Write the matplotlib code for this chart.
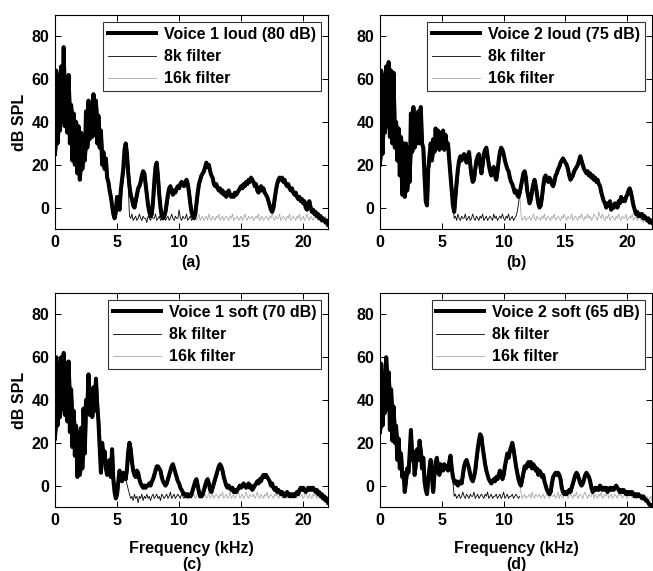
import numpy as np
import matplotlib
matplotlib.use("Agg")
import matplotlib.pyplot as plt

plt.rcParams['font.family'] = ['Liberation Sans', 'DejaVu Sans']
plt.rcParams['font.weight'] = 'bold'
plt.rcParams['path.simplify'] = False

# frequency grid (kHz) of the spectra, 0.1 kHz step
freq = np.linspace(0, 22, 221)
floor_freq = np.linspace(6, 22, 161)

xticks = [0, 5, 10, 15, 20]
yticks = [0, 20, 40, 60, 80]

labels_voice = ["Voice 1 loud (80 dB)", "Voice 2 loud (75 dB)",
                "Voice 1 soft (70 dB)", "Voice 2 soft (65 dB)"]
panel_tags = ["(a)", "(b)", "(c)", "(d)"]

voice_a = np.array([
    25, 64, 30, 62, 36, 66, 40, 75, 38, 58,
    35, 62, 30, 48, 22, 44, 20, 40, 16, 38,
    13, 35, 18, 34, 22, 45, 28, 50, 32, 48,
    33, 53, 34, 50, 30, 43, 28, 36, 20, 26,
    18, 23, 14, 12, 8, 5, 1, -3, -5, -2,
    5, 2, -1, 8, 13, 18, 27, 30, 25, 16,
    10, 6, 4, 1, 0, 3, 6, 9, 10, 12,
    15, 17, 16, 11, 6, 1, -2, -4, -3, 3,
    12, 19, 21, 14, 6, 0, -4, -5, -4, -2,
    2, 6, 9, 10, 8, 6, 8, 7, 9, 10,
    9, 11, 12, 11, 10, 12, 13, 11, 7, 2,
    -2, -4, -5, -3, 2, 7, 11, 13, 15, 16,
    17, 19, 21, 19, 20, 17, 15, 14, 11, 10,
    11, 9, 8, 9, 7, 8, 6, 7, 5, 7,
    8, 6, 5, 6, 5, 7, 6, 7, 8, 9,
    10, 9, 11, 10, 12, 11, 13, 12, 14, 13,
    12, 10, 11, 8, 7, 9, 10, 8, 9, 7,
    6, 5, 3, 1, -1, -2, 0, 4, 8, 11,
    13, 14, 13, 14, 12, 13, 11, 10, 11, 9,
    8, 9, 7, 6, 7, 5, 4, 5, 3, 4,
    2, 3, 0, -1, 2, 3, 0, -2, -1, -3,
    -2, -4, -3, -5, -4, -6, -5, -6, -7, -6,
    -8])

voice_b = np.array([
    20, 64, 25, 62, 35, 66, 38, 68, 33, 64,
    30, 63, 28, 40, 22, 37, 15, 33, 6, 30,
    5, 30, 8, 28, 12, 44, 26, 47, 28, 42,
    30, 45, 30, 47, 30, 28, 15, 3, 1, 18,
    24, 30, 22, 32, 26, 37, 28, 36, 27, 35,
    28, 36, 27, 34, 28, 30, 22, 15, 8, 1,
    -2, 5, 12, 18, 22, 24, 22, 24, 25, 23,
    21, 24, 26, 20, 15, 12, 13, 18, 22, 24,
    25, 20, 16, 20, 25, 27, 28, 24, 20, 17,
    15, 18, 19, 15, 13, 17, 22, 26, 28, 27,
    25, 22, 20, 18, 17, 14, 12, 11, 9, 7,
    8, 6, 5, 7, 10, 13, 16, 17, 14, 8,
    5, 2, 4, 8, 11, 13, 10, 6, 2, 0,
    1, 5, 10, 14, 15, 13, 12, 14, 13, 11,
    10, 12, 15, 16, 18, 19, 21, 22, 23, 22,
    21, 20, 18, 15, 13, 14, 15, 17, 18, 19,
    20, 22, 24, 22, 20, 18, 17, 16, 17, 15,
    16, 14, 15, 13, 14, 12, 13, 11, 10, 7,
    5, 3, 2, 0, 2, 1, 3, -1, 1, 0,
    2, 1, 0, 3, 2, 5, 3, 4, 3, 5,
    6, 8, 9, 7, 4, 1, -1, -3, -2, -4,
    -3, -4, -3, -5, -4, -5, -6, -5, -7, -6,
    -7])

voice_c = np.array([
    22, 60, 28, 57, 32, 60, 36, 62, 33, 57,
    30, 58, 25, 45, 18, 35, 14, 28, 4, 25,
    5, 27, 8, 36, 15, 40, 35, 52, 33, 42,
    32, 46, 35, 50, 38, 30, 18, 6, 20, 12,
    16, 8, 5, 10, 12, 4, 17, 3, -3, -6,
    -4, 2, 7, 4, 2, 6, 5, 3, 8, 16,
    20, 17, 11, 7, 5, 4, 7, 6, 3, 1,
    0, -1, 0, -1, 0, 0, 1, 0, 2, 3,
    5, 7, 9, 9, 8, 7, 4, 2, 1, 0,
    1, 3, 5, 7, 9, 10, 8, 6, 4, 2,
    1, -1, -2, -3, -4, -4, -5, -4, -5, -5,
    -4, -2, 0, 2, 3, 0, -3, -5, -5, -4,
    -2, 0, 2, 3, 1, -2, -3, -1, 1, 3,
    5, 7, 9, 10, 9, 7, 4, 2, 0, -1,
    0, -1, -2, -1, -3, -2, -3, -2, -1, 0,
    -1, 0, 1, 0, -1, 0, 1, -1, 0, -2,
    -1, 0, 1, 2, 1, 3, 2, 4, 5, 4,
    5, 4, 3, 2, 0, 1, -1, -2, -1, -3,
    -2, -3, -4, -3, -4, -5, -4, -3, -4, -5,
    -4, -5, -4, -5, -4, -3, -4, -2, -1, -2,
    -1, -2, -3, -2, -1, -2, -1, -2, -1, -2,
    -3, -2, -4, -3, -5, -4, -6, -5, -7, -6,
    -8])

voice_d = np.array([
    25, 57, 28, 52, 34, 60, 36, 53, 26, 45,
    21, 37, 20, 28, 12, 22, 8, 15, 4, 6,
    -3, 2, 8, 6, 15, 26, 12, 16, 5, 10,
    17, 12, 21, 16, 8, 13, 2, -2, -4, 3,
    8, 12, 4, -3, 5, 11, 13, 7, 5, 10,
    9, 7, 10, 8, 9, 7, 11, 14, 8, 4,
    2, 1, 2, 0, 1, 2, 1, 5, 9, 11,
    12, 10, 8, 5, 3, 2, 4, 7, 12, 17,
    21, 24, 23, 18, 14, 10, 7, 5, 3, 2,
    1, 2, 3, 2, 4, 3, 5, 7, 5, 3,
    5, 9, 12, 15, 13, 16, 18, 20, 17, 13,
    9, 6, 3, 1, 0, 3, 6, 9, 8, 10,
    11, 9, 11, 8, 10, 9, 7, 8, 5, 7,
    6, 4, 5, 2, 0, -2, -3, -4, -3, 1,
    4, 5, 6, 5, 6, 5, 3, -1, -3, -4,
    -3, -4, -3, -2, -3, -1, 1, 3, 5, 6,
    5, 3, 1, 0, 1, 3, 5, 6, 5, 4,
    2, -1, -3, -2, -1, -2, -1, -2, 0, -1,
    -2, -1, -2, -1, -3, -2, -1, -2, -1, -2,
    -1, 0, -1, -2, -3, -2, -3, -2, -3, -4,
    -3, -4, -3, -4, -3, -4, -5, -4, -5, -4,
    -5, -5, -6, -5, -6, -7, -7, -8, -9, -9,
    -10])

# noise floor of the filtered signals, 6-22 kHz
floor_a = np.array([
    -4, -5, -3, -6, -5, -4, -6, -5, -3, -5,
    -6, -4, -5, -5, -7, -4, -5, -6, -4, -5,
    -5, -3, -6, -5, -4, -6, -5, -5, -3, -6,
    -5, -4, -6, -5, -3, -5, -6, -4, -5, -5,
    -1, -5, -6, -4, -5, -5, -3, -6, -5, -4,
    -6, -5, -5, -4, -6, -5, -3, -6, -5, -4,
    -6, -5, -4, -6, -3, -5, -6, -4, -5, -6,
    -4, -5, -3, -6, -5, -4, -6, -5, -4, -5,
    -6, -4, -5, -3, -6, -5, -5, -4, -6, -5,
    -4, -6, -5, -3, -5, -6, -4, -5, -5, -4,
    -6, -5, -4, -5, -3, -6, -5, -4, -6, -5,
    -4, -5, -6, -4, -5, -3, -5, -6, -4, -5,
    -5, -3, -6, -5, -4, -5, -6, -4, -5, -3,
    -6, -5, -4, -5, -6, -4, -5, -3, -6, -5,
    -4, -6, -5, -3, -5, -6, -4, -5, -6, -4,
    -5, -3, -6, -5, -4, -7, -5, -6, -4, -7,
    -6])

floor_b = np.array([
    -5, -4, -6, -3, -5, -6, -4, -5, -5, -3,
    -6, -5, -4, -6, -5, -3, -5, -6, -4, -5,
    -6, -4, -5, -3, -6, -5, -4, -6, -5, -4,
    -5, -6, -3, -5, -4, -6, -5, -4, -5, -3,
    -5, -6, -4, -5, -3, -6, -5, -4, -6, -5,
    -4, -2, 2, 6, -3, -6, -5, -4, -6, -5,
    -5, -4, -6, -5, -3, -5, -6, -4, -5, -5,
    -6, -4, -5, -3, -6, -5, -4, -5, -6, -4,
    -5, -3, -6, -5, -4, -5, -6, -4, -5, -3,
    -5, -6, -4, -5, -5, -3, -6, -5, -4, -5,
    -6, -4, -5, -3, -5, -6, -4, -5, -3, -5,
    -4, -6, -5, -3, -4, -5, -6, -2, -4, -5,
    -3, -5, -6, -4, -5, -3, -6, -5, -4, -5,
    -6, -4, -5, -3, -5, -6, -4, -5, -5, -3,
    -6, -5, -4, -5, -3, -6, -5, -4, -6, -5,
    -4, -6, -5, -7, -4, -6, -5, -7, -6, -5,
    -7])

floor_c = np.array([
    -4, -6, -5, -7, -4, -6, -5, -8, -5, -6,
    -4, -7, -5, -6, -4, -6, -5, -7, -5, -4,
    -6, -5, -4, -6, -5, -7, -4, -5, -6, -5,
    -4, -6, -5, -3, -6, -5, -4, -6, -5, -4,
    -5, -6, -4, -5, -6, -5, -4, -6, -5, -3,
    -6, -5, -4, -6, -5, -3, -6, -5, -4, -6,
    -5, -4, -6, -5, -3, -6, -5, -4, -6, -5,
    -4, -5, -6, -4, -5, -3, -6, -5, -4, -6,
    -5, -3, -6, -5, -4, -6, -5, -4, -3, -6,
    -5, -4, -6, -5, -3, -5, -6, -4, -5, -5,
    -4, -6, -5, -3, -5, -6, -4, -5, -6, -4,
    -5, -3, -6, -5, -4, -5, -6, -4, -5, -3,
    -6, -5, -4, -6, -5, -3, -5, -6, -4, -5,
    -5, -4, -6, -3, -5, -6, -4, -5, -5, -4,
    -6, -5, -3, -5, -6, -4, -5, -6, -4, -5,
    -3, -6, -5, -4, -6, -5, -7, -5, -6, -7,
    -7])

floor_d = np.array([
    -5, -4, -6, -5, -4, -6, -5, -3, -5, -6,
    -4, -5, -6, -4, -5, -5, -3, -6, -5, -4,
    -6, -5, -4, -5, -6, -4, -5, -3, -6, -5,
    -4, -6, -5, -5, -4, -6, -5, -4, -6, -5,
    -3, -6, -5, -4, -6, -5, -5, -4, -6, -5,
    -4, -5, -6, -5, -3, -6, -5, -4, -6, -5,
    -5, -4, -6, -3, -5, -6, -4, -5, -5, -4,
    -6, -5, -4, -6, -5, -3, -5, -6, -4, -5,
    -5, -4, -6, -5, -3, -6, -4, -5, -6, -4,
    -5, -3, -6, -5, -4, -5, -6, -4, -5, -3,
    -6, -5, -4, -5, -6, -4, -3, -5, -6, -4,
    -5, -5, -3, -6, -4, -5, -6, -4, -5, -3,
    -6, -5, -4, -5, -3, -6, -5, -4, -6, -5,
    -4, -5, -6, -3, -5, -4, -6, -5, -4, -5,
    -6, -4, -5, -3, -6, -5, -4, -6, -5, -4,
    -5, -6, -4, -7, -5, -6, -5, -7, -6, -5,
    -7])

# frequencies (kHz) at which the 8k / 16k filtered spectra leave the voice spectrum
cut8 = [5.8, 5.9, 5.7, 5.8]
cut16 = [11.2, 11.3, 10.8, 11.3]

voices = [voice_a, voice_b, voice_c, voice_d]
floors = [floor_a, floor_b, floor_c, floor_d]

W, H = 653, 571
fig = plt.figure(figsize=(W / 100, H / 100), dpi=100)

# axes boxes in pixels: left, top, width, height
boxes = [(55, 15, 273, 214), (380, 15, 272, 214),
         (55, 293, 273, 214), (380, 293, 272, 214)]

FS = 11.5
eps = 1e-6
for i in range(4):
    l, t, w, h = boxes[i]
    ax = fig.add_axes([l / W, (H - t - h) / H, w / W, h / H])
    v = voices[i]
    fl = floors[i]
    m8v = freq <= cut8[i] + eps
    m8f = floor_freq <= cut16[i] + eps
    x8 = np.concatenate([freq[m8v], floor_freq[m8f]])
    y8 = np.concatenate([v[m8v], fl[m8f]])
    m16v = freq <= cut16[i] + eps
    m16f = floor_freq > cut16[i] + eps
    x16 = np.concatenate([freq[m16v], floor_freq[m16f]])
    y16 = np.concatenate([v[m16v], fl[m16f]])

    # band swept by the rapidly oscillating spectrum (neighbouring-sample extremes)
    vp = np.pad(v, 1, mode='edge')
    band_lo = np.minimum(np.minimum(vp[:-2], vp[1:-1]), vp[2:])
    band_hi = np.maximum(np.maximum(vp[:-2], vp[1:-1]), vp[2:])
    ax.fill_between(freq, band_lo, band_hi, color='black', lw=0, zorder=2)

    hv, = ax.plot(freq, v, color='black', lw=2.9, zorder=2)
    h8, = ax.plot(x8, y8, color='black', lw=0.6, zorder=3)
    h16, = ax.plot(x16, y16, color='#a8a8a8', lw=0.6, zorder=1)

    ax.set_xlim(0, 22)
    ax.set_ylim(-10, 90)
    ax.set_xticks(xticks)
    ax.set_yticks(yticks)
    ax.tick_params(direction='in', top=True, right=True, length=4, width=0.7,
                   labelsize=FS, pad=4)
    for lab in ax.get_xticklabels() + ax.get_yticklabels():
        lab.set_fontweight('bold')
    for sp in ax.spines.values():
        sp.set_linewidth(0.8)
        sp.set_zorder(4)

    leg = ax.legend([hv, h8, h16], [labels_voice[i], "8k filter", "16k filter"],
                    loc='upper right', fontsize=FS, frameon=True, fancybox=False,
                    edgecolor='black', handlelength=3.0, labelspacing=0.45,
                    borderaxespad=0.45, handletextpad=0.5, borderpad=0.3)
    leg.get_frame().set_linewidth(0.8)
    for txt in leg.get_texts():
        txt.set_fontweight('bold')

    if i % 2 == 0:
        ax.set_ylabel("dB SPL", fontsize=FS, fontweight='bold', labelpad=3)
    if i >= 2:
        ax.set_xlabel("Frequency (kHz)", fontsize=FS, fontweight='bold', labelpad=10)
        ax.text(0.5, -0.268, panel_tags[i], transform=ax.transAxes, ha='center',
                va='center', fontsize=FS, fontweight='bold')
    else:
        ax.text(0.5, -0.155, panel_tags[i], transform=ax.transAxes, ha='center',
                va='center', fontsize=FS, fontweight='bold')

fig.savefig("out.png", dpi=100)
